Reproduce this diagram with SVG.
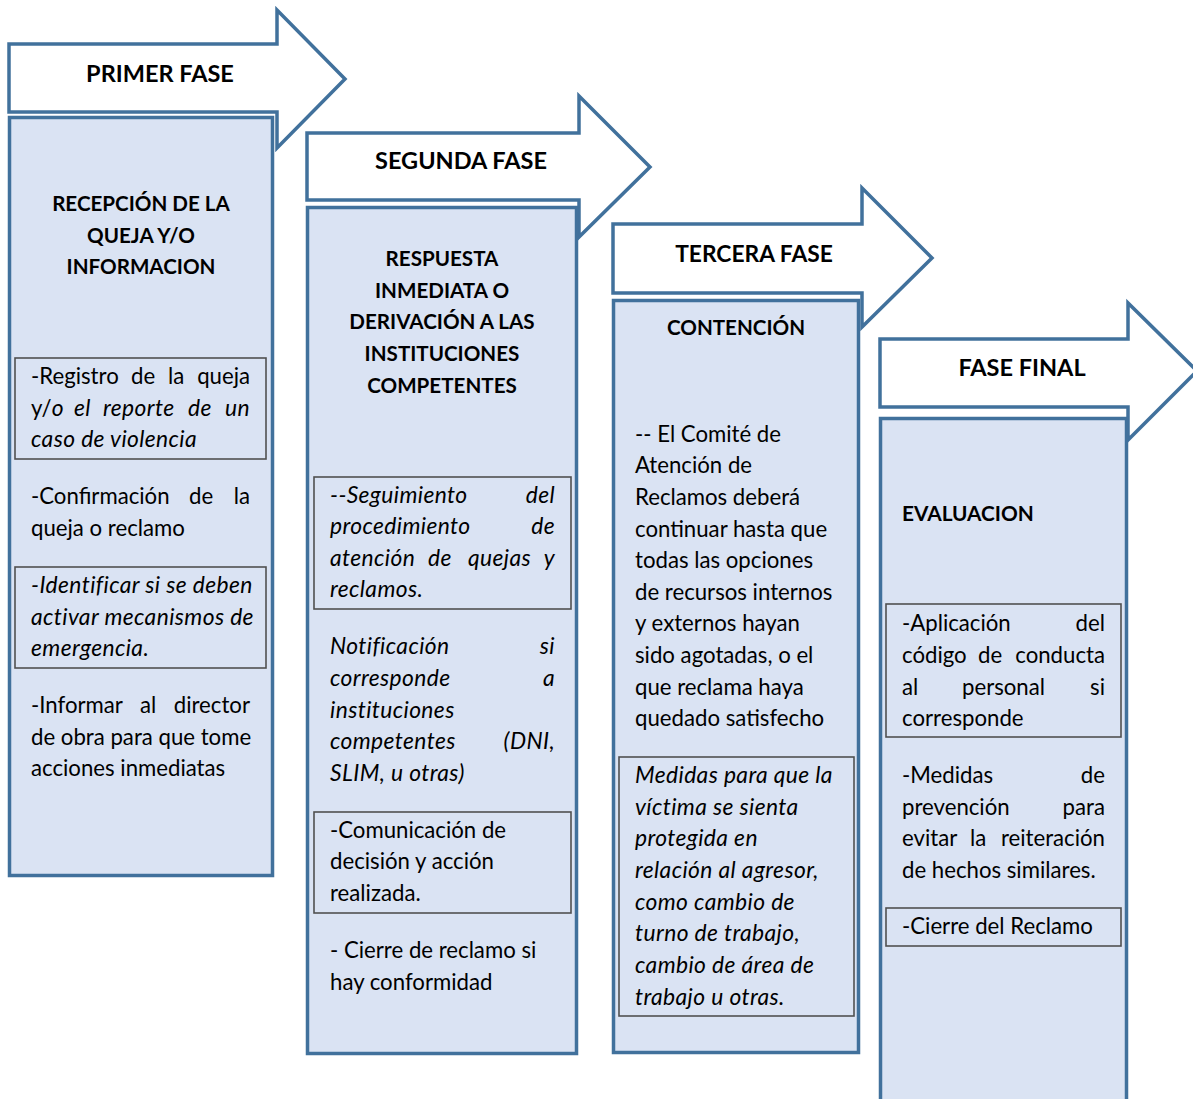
<svg xmlns="http://www.w3.org/2000/svg" width="1193" height="1099" viewBox="0 0 1193 1099">
<style>
.arrow{fill:#ffffff;stroke:#41719C;stroke-width:3.5;stroke-linejoin:miter}
.box{fill:#DAE3F3;stroke:#41719C;stroke-width:3.5}
.inner{fill:#DAE3F3;stroke:#505050;stroke-width:1.6}
text{font-family:Lato,"Liberation Sans",sans-serif;font-size:22.2px;fill:#000}
.h{font-weight:bold;text-anchor:middle;font-size:23.5px}
.bh{font-weight:bold;text-anchor:middle;font-size:20.6px}
.hl{font-weight:bold;font-size:20.8px}
.i{font-style:italic;font-size:22.8px;letter-spacing:0.4px}
.e{text-anchor:end}
</style>
<rect width="1193" height="1099" fill="#ffffff"/>
<g id="phase1">
<path class="arrow" d="M9,44 H277 V10 L345,79 L277,148 V112 H9 Z"/>
<text class="h" x="160" y="82">PRIMER FASE</text>
<rect class="box" x="9.5" y="117.5" width="263" height="758"/>
<text class="bh" x="141" y="211">RECEPCIÓN DE LA</text>
<text class="bh" x="141" y="243">QUEJA Y/O</text>
<text class="bh" x="141" y="274">INFORMACION</text>
<rect class="inner" x="15" y="358" width="251" height="101"/>
<text x="31" y="384">-Registro</text><text x="131" y="384">de</text><text x="168" y="384">la</text><text class="e" x="250" y="384">queja</text>
<text x="31" y="416">y/<tspan class="i">o</tspan></text><text class="i" x="74" y="416">el</text><text class="i" x="103" y="416">reporte</text><text class="i" x="188" y="416">de</text><text class="i e" x="250" y="416">un</text>
<text class="i" x="31" y="447">caso de violencia</text>
<text x="31" y="504">-Confirmación</text><text x="189" y="504">de</text><text class="e" x="250" y="504">la</text>
<text x="31" y="536">queja o reclamo</text>
<rect class="inner" x="15" y="567" width="251" height="101"/>
<text class="i" x="31" y="593">-Identificar si se deben</text>
<text class="i" x="31" y="625">activar mecanismos de</text>
<text class="i" x="31" y="656">emergencia.</text>
<text x="31" y="713">-Informar</text><text x="140" y="713">al</text><text class="e" x="250" y="713">director</text>
<text x="31" y="745">de obra para que tome</text>
<text x="31" y="776">acciones inmediatas</text>
</g>
<g id="phase2">
<path class="arrow" d="M307,133 H579 V96 L650,167 L579,237 V200 H307 Z"/>
<text class="h" x="461" y="169">SEGUNDA FASE</text>
<rect class="box" x="307.5" y="207.5" width="269" height="846"/>
<text class="bh" x="442" y="266">RESPUESTA</text>
<text class="bh" x="442" y="298">INMEDIATA O</text>
<text class="bh" x="442" y="329">DERIVACIÓN A LAS</text>
<text class="bh" x="442" y="361">INSTITUCIONES</text>
<text class="bh" x="442" y="393">COMPETENTES</text>
<rect class="inner" x="314" y="477" width="257" height="132"/>
<text class="i" x="330" y="503">--Seguimiento</text><text class="i e" x="555" y="503">del</text>
<text class="i" x="330" y="534">procedimiento</text><text class="i e" x="555" y="534">de</text>
<text class="i" x="330" y="566">atención</text><text class="i" x="428" y="566">de</text><text class="i" x="468" y="566">quejas</text><text class="i e" x="555" y="566">y</text>
<text class="i" x="330" y="597">reclamos.</text>
<text class="i" x="330" y="654">Notificación</text><text class="i e" x="555" y="654">si</text>
<text class="i" x="330" y="686">corresponde</text><text class="i e" x="555" y="686">a</text>
<text class="i" x="330" y="718">instituciones</text>
<text class="i" x="330" y="749">competentes</text><text class="i e" x="555" y="749">(DNI,</text>
<text class="i" x="330" y="781">SLIM, u otras)</text>
<rect class="inner" x="314" y="812" width="257" height="101"/>
<text x="330" y="838">-Comunicación de</text>
<text x="330" y="869">decisión y acción</text>
<text x="330" y="901">realizada.</text>
<text x="330" y="958">- Cierre de reclamo si</text>
<text x="330" y="990">hay conformidad</text>
</g>
<g id="phase3">
<path class="arrow" d="M613,224 H862 V188 L932,258 L862,327 V293 H613 Z"/>
<text class="h" x="754" y="262" style="font-size:22.8px">TERCERA FASE</text>
<rect class="box" x="613.5" y="300.5" width="245" height="752"/>
<text class="bh" x="736" y="335">CONTENCIÓN</text>
<text x="635" y="442">-- El Comité de</text>
<text x="635" y="473">Atención de</text>
<text x="635" y="505">Reclamos deberá</text>
<text x="635" y="537">continuar hasta que</text>
<text x="635" y="568">todas las opciones</text>
<text x="635" y="600">de recursos internos</text>
<text x="635" y="631">y externos hayan</text>
<text x="635" y="663">sido agotadas, o el</text>
<text x="635" y="695">que reclama haya</text>
<text x="635" y="726">quedado satisfecho</text>
<rect class="inner" x="619" y="757" width="235" height="259"/>
<text class="i" x="635" y="783">Medidas para que la</text>
<text class="i" x="635" y="815">víctima se sienta</text>
<text class="i" x="635" y="846">protegida en</text>
<text class="i" x="635" y="878">relación al agresor,</text>
<text class="i" x="635" y="910">como cambio de</text>
<text class="i" x="635" y="941">turno de trabajo,</text>
<text class="i" x="635" y="973">cambio de área de</text>
<text class="i" x="635" y="1005">trabajo u otras.</text>
</g>
<g id="phase4">
<path class="arrow" d="M880,339 H1128 V303 L1197,371 L1128,440 V407 H880 Z"/>
<text class="h" x="1022" y="376">FASE FINAL</text>
<rect class="box" x="880.5" y="418.5" width="246" height="700"/>
<text class="hl" x="902" y="521">EVALUACION</text>
<rect class="inner" x="886" y="604" width="235" height="133"/>
<text x="902" y="631">-Aplicación</text><text class="e" x="1105" y="631">del</text>
<text x="902" y="663">código</text><text x="978" y="663">de</text><text class="e" x="1105" y="663">conducta</text>
<text x="902" y="695">al</text><text x="962" y="695">personal</text><text class="e" x="1105" y="695">si</text>
<text x="902" y="726">corresponde</text>
<text x="902" y="783">-Medidas</text><text class="e" x="1105" y="783">de</text>
<text x="902" y="815">prevención</text><text class="e" x="1105" y="815">para</text>
<text x="902" y="846">evitar</text><text x="970" y="846">la</text><text class="e" x="1105" y="846">reiteración</text>
<text x="902" y="878">de hechos similares.</text>
<rect class="inner" x="886" y="908" width="235" height="38"/>
<text x="902" y="934">-Cierre del Reclamo</text>
</g>
<g id="connectors"></g>
</svg>
